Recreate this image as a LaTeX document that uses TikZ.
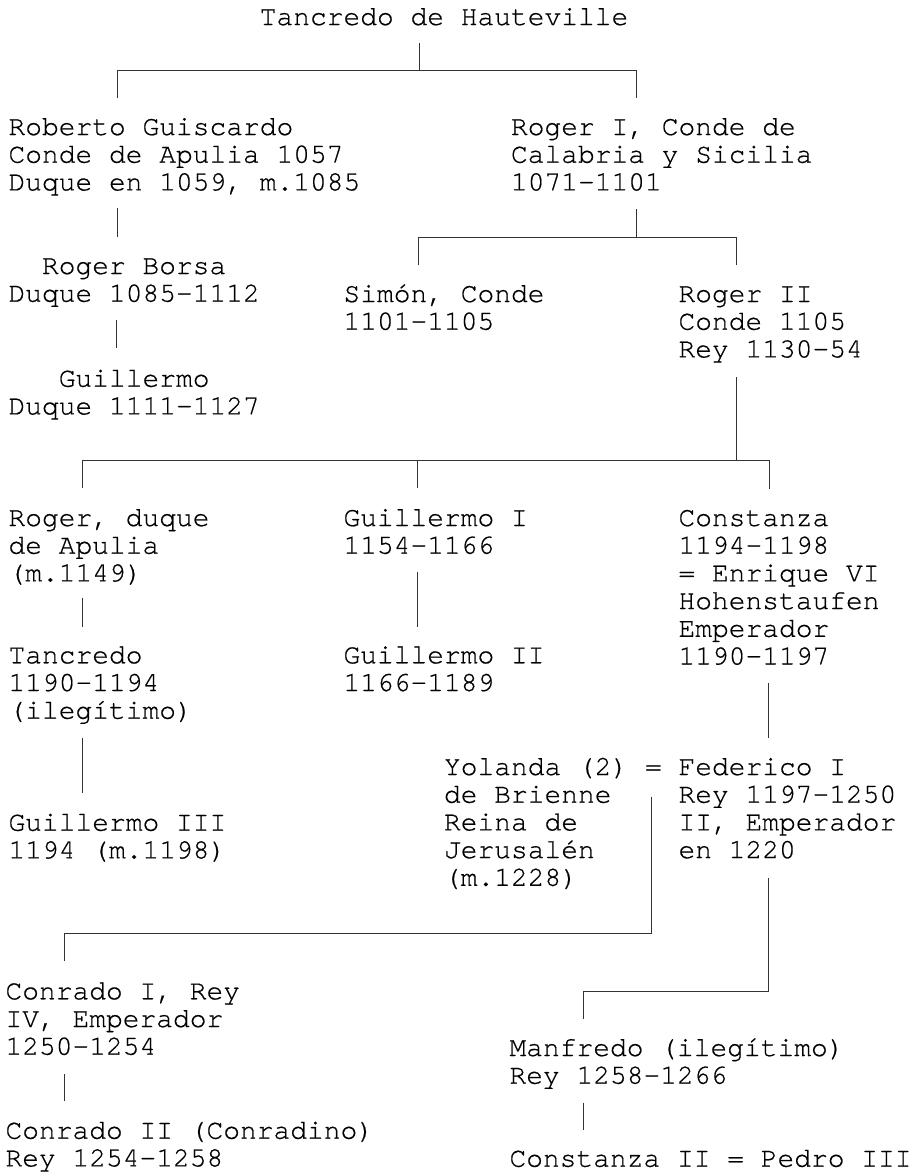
\documentclass[tikz,border=0pt]{standalone}
\usepackage{fontspec}
\newfontfamily\cour[Extension=.otf,UprightFont=*-regular,FakeBold=0.6]{texgyrecursor}
\newcommand\blk[1]{\vtop{\baselineskip=27.7pt\lineskiplimit=-100pt\lineskip=0pt\halign{##\hfil\cr#1\crcr}}}
\begin{document}
\begin{tikzpicture}[x=1pt,y=-1pt,
  txt/.style={inner sep=0pt, outer sep=0pt, anchor=base west,
    font=\cour\fontsize{27.92}{27.7}\selectfont},
  conn/.style={line width=1pt, draw=black!80}]
\useasboundingbox (0,0) rectangle (916,1176);
\fill[white] (0,0) rectangle (916,1176);

% ---------- people ----------
\node[txt] (top)   at (259.75,25)  {\blk{Tancredo de Hauteville}};
\node[txt] (rob)   at (8.5,135)    {\blk{Roberto Guiscardo\cr Conde de Apulia 1057\cr Duque en 1059, m.1085}};
\node[txt] (rog1)  at (511,135)    {\blk{Roger I, Conde de\cr Calabria y Sicilia\cr 1071-1101}};
\node[txt] (borsa) at (8.5,274)    {\blk{~~Roger Borsa\cr Duque 1085-1112}};
\node[txt] (simon) at (343.5,302)  {\blk{Simón, Conde\cr 1101-1105}};
\node[txt] (rog2)  at (678.5,302)  {\blk{Roger II\cr Conde 1105\cr Rey 1130-54}};
\node[txt] (guil)  at (8.5,386.7)  {\blk{~~~Guillermo\cr Duque 1111-1127}};
\node[txt] (rogd)  at (8.5,526)    {\blk{Roger, duque\cr de Apulia\cr (m.1149)}};
\node[txt] (guil1) at (343.5,526)  {\blk{Guillermo I\cr 1154-1166}};
\node[txt] (const) at (678.5,526)  {\blk{Constanza\cr 1194-1198\cr = Enrique VI\cr Hohenstaufen\cr Emperador\cr 1190-1197}};
\node[txt] (tanc)  at (8.5,663.3)  {\blk{Tancredo\cr 1190-1194\cr (ilegítimo)}};
\node[txt] (guil2) at (343.5,663.3){\blk{Guillermo II\cr 1166-1189}};
\node[txt] (guil3) at (8.5,830.7)  {\blk{Guillermo III\cr 1194 (m.1198)}};
\node[txt] (yol)   at (444,775)    {\blk{Yolanda (2)\cr de Brienne\cr Reina de\cr Jerusalén\cr (m.1228)}};
\node[txt] (eq1)   at (645,775)    {=};
\node[txt] (fed)   at (678.5,775)  {\blk{Federico I\cr Rey 1197-1250\cr II, Emperador\cr en 1220}};
\node[txt] (conr)  at (5.5,999.3)  {\blk{Conrado I, Rey\cr IV, Emperador\cr 1250-1254}};
\node[txt] (conr2) at (5.5,1138.7) {\blk{Conrado II (Conradino)\cr Rey 1254-1258}};
\node[txt] (manf)  at (509.5,1056) {\blk{Manfredo (ilegítimo)\cr Rey 1258-1266}};
\node[txt] (const2) at (509.5,1166.7) {\blk{Constanza II = Pedro III}};

% ---------- connector points ----------
\coordinate (a0) at (419,43);    \coordinate (a1) at (419,70.7);
\coordinate (aL) at (117,70.7);  \coordinate (aR) at (636.7,70.7);
\coordinate (aLd) at (117,97.7); \coordinate (aRd) at (636.7,98);

\coordinate (b0) at (117,208);   \coordinate (b1) at (117,237);

\coordinate (c0) at (636.6,209); \coordinate (c1) at (636.6,237.3);
\coordinate (cL) at (418,237.3); \coordinate (cR) at (736.7,237.3);
\coordinate (cLd) at (418,265);  \coordinate (cRd) at (736.7,265);

\coordinate (d0) at (116.8,320); \coordinate (d1) at (116.8,348);

\coordinate (e0) at (736.2,377.3); \coordinate (e1) at (736.2,460.7);
\coordinate (eL) at (82.7,460.7);  \coordinate (eM) at (417.7,460.7);
\coordinate (eR) at (769.3,460.7);
\coordinate (eLd) at (82.7,488.3); \coordinate (eMd) at (417.7,488.3);
\coordinate (eRd) at (769.3,489.3);

\coordinate (f0) at (82.3,598);    \coordinate (f1) at (82.3,627.3);
\coordinate (g0) at (417.7,571.7); \coordinate (g1) at (417.7,627.3);
\coordinate (h0) at (82.3,738.3);  \coordinate (h1) at (82.3,793.3);
\coordinate (i0) at (768.5,683.3); \coordinate (i1) at (768.5,738.3);

\coordinate (j0) at (651,796.7);   \coordinate (j1) at (651,933.3);
\coordinate (jL) at (64.3,933.3);  \coordinate (jLd) at (64.3,961);

\coordinate (k0) at (768.5,878.3); \coordinate (k1) at (768.5,991);
\coordinate (kL) at (583.7,991);   \coordinate (kLd) at (583.7,1018.7);

\coordinate (m0) at (64.3,1074.3); \coordinate (m1) at (64.3,1101);
\coordinate (n0) at (583.5,1102.7);\coordinate (n1) at (583.5,1130);

% ---------- connectors ----------
\draw[conn] (a0) -- (a1);
\draw[conn] (aLd) -- (aL) -- (aR) -- (aRd);
\draw[conn] (b0) -- (b1);
\draw[conn] (c0) -- (c1);
\draw[conn] (cLd) -- (cL) -- (cR) -- (cRd);
\draw[conn] (d0) -- (d1);
\draw[conn] (e0) -- (e1);
\draw[conn] (eLd) -- (eL) -- (eR) -- (eRd);
\draw[conn] (eM) -- (eMd);
\draw[conn] (f0) -- (f1);
\draw[conn] (g0) -- (g1);
\draw[conn] (h0) -- (h1);
\draw[conn] (i0) -- (i1);
\draw[conn] (j0) -- (j1) -- (jL) -- (jLd);
\draw[conn] (k0) -- (k1) -- (kL) -- (kLd);
\draw[conn] (m0) -- (m1);
\draw[conn] (n0) -- (n1);
\end{tikzpicture}
\end{document}
